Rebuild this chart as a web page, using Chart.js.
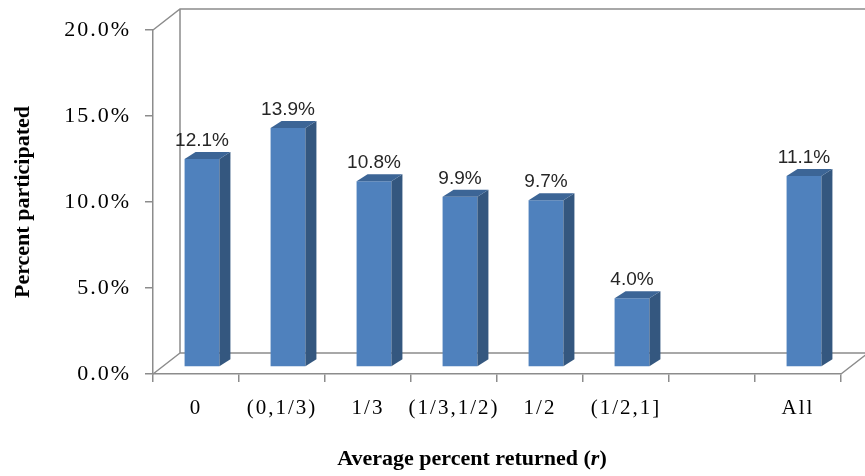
<!DOCTYPE html>
<html>
<head>
<meta charset="utf-8">
<script src="https://cdn.jsdelivr.net/npm/chart.js@4"></script>
<style>
  html, body { margin: 0; padding: 0; background: #fff; }
</style>
</head>
<body>
<canvas id="myChart" width="865" height="476"></canvas>
<script>
// data
const categories = ['0', '(0,1/3)', '1/3', '(1/3,1/2)', '1/2', '(1/2,1]', '', 'All'];
const participated = [12.1, 13.9, 10.8, 9.9, 9.7, 4.0, null, 11.1];
const yMin = 0;
const yMax = 20;
const yStep = 5;
const yTitle = 'Percent participated';
const xTitle = ['Average percent returned (', 'r', ')'];

// 3d look
const lineColor = '#8c8c8c';
const depth = { x: 27, y: -21 };     // back wall offset
const barShift = { x: 6, y: -7 };    // bars sit a bit inside the box
const barSide = { x: 11, y: -7 };    // thickness of each bar
const frontColor = '#4f81bd';
const sideColor = '#34577f';
const topColor = '#3c6596';

const box3d = {
    id: 'box3d',
    beforeDraw(chart) {
        chart.ctx.letterSpacing = '2px';
    },
    beforeDatasetsDraw(chart) {
        const ctx = chart.ctx;
        const a = chart.chartArea;
        ctx.letterSpacing = '0px';
        ctx.save();
        ctx.strokeStyle = lineColor;
        ctx.lineWidth = 1.5;
        ctx.beginPath();
        // top left edge + back top
        ctx.moveTo(a.left, a.top);
        ctx.lineTo(a.left + depth.x, a.top + depth.y);
        ctx.lineTo(a.right + depth.x + 5, a.top + depth.y);
        // back left + floor back
        ctx.moveTo(a.left + depth.x, a.top + depth.y);
        ctx.lineTo(a.left + depth.x, a.bottom + depth.y);
        ctx.lineTo(a.right + depth.x, a.bottom + depth.y);
        // floor sides
        ctx.moveTo(a.left, a.bottom);
        ctx.lineTo(a.left + depth.x, a.bottom + depth.y);
        ctx.moveTo(a.right, a.bottom);
        ctx.lineTo(a.right + depth.x, a.bottom + depth.y);
        ctx.stroke();
        ctx.restore();

        ctx.save();
        ctx.translate(barShift.x, barShift.y);
    },
    afterDatasetsDraw(chart) {
        const ctx = chart.ctx;
        const meta = chart.getDatasetMeta(0);
        meta.data.forEach((bar, i) => {
            const v = participated[i];
            if (v === null) return;
            const p = bar.getProps(['x', 'y', 'base', 'width'], true);
            const l = p.x - p.width / 2;
            const r = p.x + p.width / 2;
            // side
            ctx.fillStyle = sideColor;
            ctx.beginPath();
            ctx.moveTo(r, p.y);
            ctx.lineTo(r + barSide.x, p.y + barSide.y);
            ctx.lineTo(r + barSide.x, p.base + barSide.y);
            ctx.lineTo(r, p.base);
            ctx.closePath();
            ctx.fill();
            // top
            ctx.fillStyle = topColor;
            ctx.beginPath();
            ctx.moveTo(l, p.y);
            ctx.lineTo(l + barSide.x, p.y + barSide.y);
            ctx.lineTo(r + barSide.x, p.y + barSide.y);
            ctx.lineTo(r, p.y);
            ctx.closePath();
            ctx.fill();
            // value label
            ctx.fillStyle = '#262626';
            ctx.font = '19px "Liberation Sans", Arial, sans-serif';
            ctx.textAlign = 'center';
            ctx.textBaseline = 'alphabetic';
            ctx.fillText(v.toFixed(1) + '%', p.x, p.y + barSide.y - 6);
        });
        ctx.restore();
    },
    afterDraw(chart) {
        const ctx = chart.ctx;
        const a = chart.chartArea;
        ctx.save();
        ctx.letterSpacing = '0px';
        ctx.fillStyle = '#000';
        ctx.textBaseline = 'alphabetic';

        // y title
        ctx.save();
        ctx.font = 'bold 22px "Liberation Serif", "Times New Roman", serif';
        ctx.translate(29, (a.top + a.bottom) / 2);
        ctx.rotate(-Math.PI / 2);
        ctx.textAlign = 'center';
        ctx.fillText(yTitle, 0, 0);
        ctx.restore();

        // x title, the r is italic
        const fBold = 'bold 22px "Liberation Serif", "Times New Roman", serif';
        const fItal = 'italic bold 22px "Liberation Serif", "Times New Roman", serif';
        ctx.font = fBold;
        const w0 = ctx.measureText(xTitle[0]).width;
        const w2 = ctx.measureText(xTitle[2]).width;
        ctx.font = fItal;
        const w1 = ctx.measureText(xTitle[1]).width;
        let x = (a.left + a.right) / 2 - 25 - (w0 + w1 + w2) / 2;
        const y = 465;
        ctx.textAlign = 'left';
        ctx.font = fBold;
        ctx.fillText(xTitle[0], x, y);
        x += w0;
        ctx.font = fItal;
        ctx.fillText(xTitle[1], x, y);
        x += w1;
        ctx.font = fBold;
        ctx.fillText(xTitle[2], x, y);
        ctx.restore();
    }
};

const canvas = document.getElementById('myChart').getContext('2d');
const myChart = new Chart(canvas, {
    type: 'bar',
    data: {
        labels: categories,
        datasets: [{
            label: yTitle,
            data: participated,
            backgroundColor: frontColor,
            borderWidth: 0,
            barPercentage: 0.9,
            categoryPercentage: 0.45
        }]
    },
    options: {
        responsive: false,
        animation: false,
        layout: { padding: { top: 30, right: 24, left: 0, bottom: 0 } },
        plugins: {
            legend: { display: false },
            tooltip: { enabled: false }
        },
        scales: {
            x: {
                afterFit(scale) { scale.height = 102; },
                grid: { drawOnChartArea: false, drawTicks: true, tickLength: 8, color: lineColor, lineWidth: 1.5, offset: true },
                border: { display: true, color: lineColor, width: 1.5 },
                ticks: {
                    color: '#000',
                    padding: 14,
                    maxRotation: 0,
                    autoSkip: false,
                    font: { family: '"Liberation Serif", "Times New Roman", serif', size: 21 }
                }
            },
            y: {
                min: yMin,
                max: yMax,
                afterFit(scale) { scale.width = 153; },
                grid: { drawOnChartArea: false, drawTicks: true, tickLength: 8, color: lineColor, lineWidth: 1.5 },
                border: { display: true, color: lineColor, width: 1.5 },
                ticks: {
                    stepSize: yStep,
                    color: '#000',
                    padding: 14,
                    font: { family: '"Liberation Serif", "Times New Roman", serif', size: 22 },
                    callback: v => v.toFixed(1) + '%'
                }
            }
        }
    },
    plugins: [box3d]
});
</script>
</body>
</html>
